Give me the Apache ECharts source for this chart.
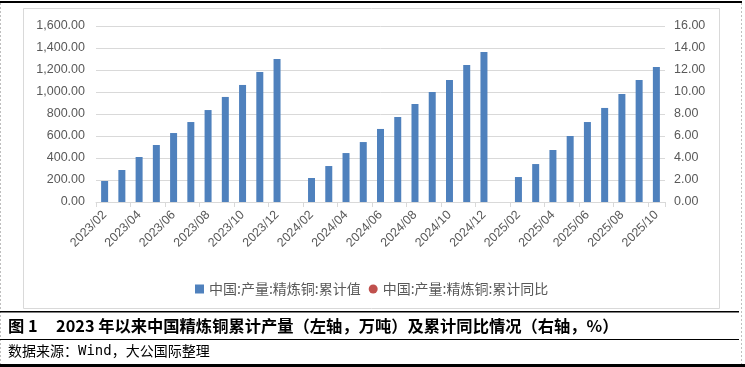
<!DOCTYPE html>
<html>
<head>
<meta charset="utf-8">
<script src="https://cdn.jsdelivr.net/npm/echarts@6/dist/echarts.min.js"></script>
<style>
  html, body { margin: 0; padding: 0; background: #fff; }
  #main { width: 745px; height: 367px; }
</style>
</head>
<body>
<div id="main"></div>
<script>
// ---- data ----
const categories = [
  '2023/02','2023/03','2023/04','2023/05','2023/06','2023/07','2023/08','2023/09','2023/10','2023/11','2023/12',
  '2024/01','2024/02','2024/03','2024/04','2024/05','2024/06','2024/07','2024/08','2024/09','2024/10','2024/11','2024/12',
  '2025/01','2025/02','2025/03','2025/04','2025/05','2025/06','2025/07','2025/08','2025/09','2025/10'
];
// 中国:产量:精炼铜:累计值 (万吨)
const cumulativeOutput = [
  191, 291, 409, 518, 627, 727, 836, 955, 1064, 1182, 1300,
  null, 218, 327, 445, 545, 664, 773, 891, 1000, 1109, 1245, 1364,
  null, 227, 345, 473, 600, 727, 855, 982, 1109, 1227
];
// 中国:产量:精炼铜:累计同比 (%) — no points visible in the reference
const cumulativeYoY = [
  null, null, null, null, null, null, null, null, null, null, null,
  null, null, null, null, null, null, null, null, null, null, null, null,
  null, null, null, null, null, null, null, null, null, null
];
const leftTicks = { min: 0, max: 1600, interval: 200 };
const rightTicks = { min: 0, max: 16, interval: 2 };
const seriesNames = ['中国:产量:精炼铜:累计值', '中国:产量:精炼铜:累计同比'];
const captionTitle = '图 1     2023 年以来中国精炼铜累计产量（左轴，万吨）及累计同比情况（右轴，%）';

// ---- chart ----
const chart = echarts.init(document.getElementById('main'), null, { renderer: 'canvas' });
const labelColor = '#595959';
const gridColor = '#D9D9D9';
const cjk = '"Noto Sans CJK SC", "Liberation Sans", sans-serif';
const latin = '"Liberation Sans", "Noto Sans CJK SC", sans-serif';

const option = {
  animation: false,
  backgroundColor: '#fff',
  grid: { left: 96, right: 80, top: 26, bottom: 165, containLabel: false },
  legend: {
    left: 190, top: 277,
    itemWidth: 9, itemHeight: 9, itemGap: 8,
    textStyle: { color: labelColor, fontSize: 14, fontFamily: cjk },
    data: [
      { name: seriesNames[0], icon: 'rect' },
      { name: seriesNames[1], icon: 'circle' }
    ]
  },
  xAxis: {
    type: 'category',
    data: categories,
    boundaryGap: true,
    axisLine: { lineStyle: { color: gridColor, width: 1 } },
    axisTick: { show: true, interval: 1, length: 5, lineStyle: { color: gridColor } },
    axisLabel: {
      interval: 1, rotate: 45, color: labelColor, fontSize: 12.5, fontFamily: latin, margin: 11
    }
  },
  yAxis: [
    {
      type: 'value', min: leftTicks.min, max: leftTicks.max, interval: leftTicks.interval,
      axisLine: { show: false }, axisTick: { show: false },
      splitLine: { lineStyle: { color: gridColor, width: 1 } },
      axisLabel: {
        color: labelColor, fontSize: 12.5, fontFamily: latin, margin: 11,
        formatter: v => v.toLocaleString('en-US', { minimumFractionDigits: 2, maximumFractionDigits: 2 })
      }
    },
    {
      type: 'value', min: rightTicks.min, max: rightTicks.max, interval: rightTicks.interval,
      axisLine: { show: false }, axisTick: { show: false }, splitLine: { show: false },
      axisLabel: {
        color: labelColor, fontSize: 12.5, fontFamily: latin, margin: 9,
        formatter: v => v.toFixed(2)
      }
    }
  ],
  series: [
    {
      name: seriesNames[0], type: 'bar', yAxisIndex: 0, data: cumulativeOutput,
      barWidth: 7, itemStyle: { color: '#4F81BD' }
    },
    {
      name: seriesNames[1], type: 'line', yAxisIndex: 1, data: cumulativeYoY,
      symbol: 'circle', symbolSize: 7, lineStyle: { width: 0, opacity: 0 },
      itemStyle: { color: '#C0504D' }
    }
  ],
  graphic: [
    // chart area frame
    { type: 'rect', shape: { x: 23.5, y: 8.5, width: 696, height: 300 }, style: { fill: 'none', stroke: gridColor, lineWidth: 1 }, z: -1 },
    // outer frame lines
    { type: 'rect', shape: { x: 0, y: 1, width: 742, height: 2 }, style: { fill: '#000' } },
    { type: 'line', shape: { x1: 0.5, y1: 3, x2: 0.5, y2: 367 }, style: { stroke: '#BFBFBF', lineWidth: 1, lineDash: [2, 2] } },
    { type: 'line', shape: { x1: 741.5, y1: 3, x2: 741.5, y2: 367 }, style: { stroke: '#BFBFBF', lineWidth: 1, lineDash: [2, 2] } },
    { type: 'rect', shape: { x: 0, y: 311, width: 739, height: 1.5 }, style: { fill: '#000' } },
    { type: 'rect', shape: { x: 0, y: 339, width: 739, height: 1 }, style: { fill: '#000' } },
    { type: 'rect', shape: { x: 0, y: 364, width: 745, height: 3 }, style: { fill: '#000' } },
    // caption
    {
      type: 'text', left: 8, top: 318,
      style: { text: captionTitle, fill: '#000', font: 'bold 16.3px "Noto Sans CJK SC", sans-serif' }
    },
    // source
    {
      type: 'text', left: 8, top: 344,
      style: {
        text: '{c|数据来源：}{m|Wind}{c|，大公国际整理}',
        rich: {
          c: { fontSize: 14, fontFamily: '"Noto Sans CJK SC", sans-serif', fill: '#000' },
          m: { fontSize: 14, fontFamily: '"DejaVu Sans Mono", "Liberation Mono", monospace', fill: '#000' }
        }
      }
    }
  ]
};
chart.setOption(option);
</script>
</body>
</html>
